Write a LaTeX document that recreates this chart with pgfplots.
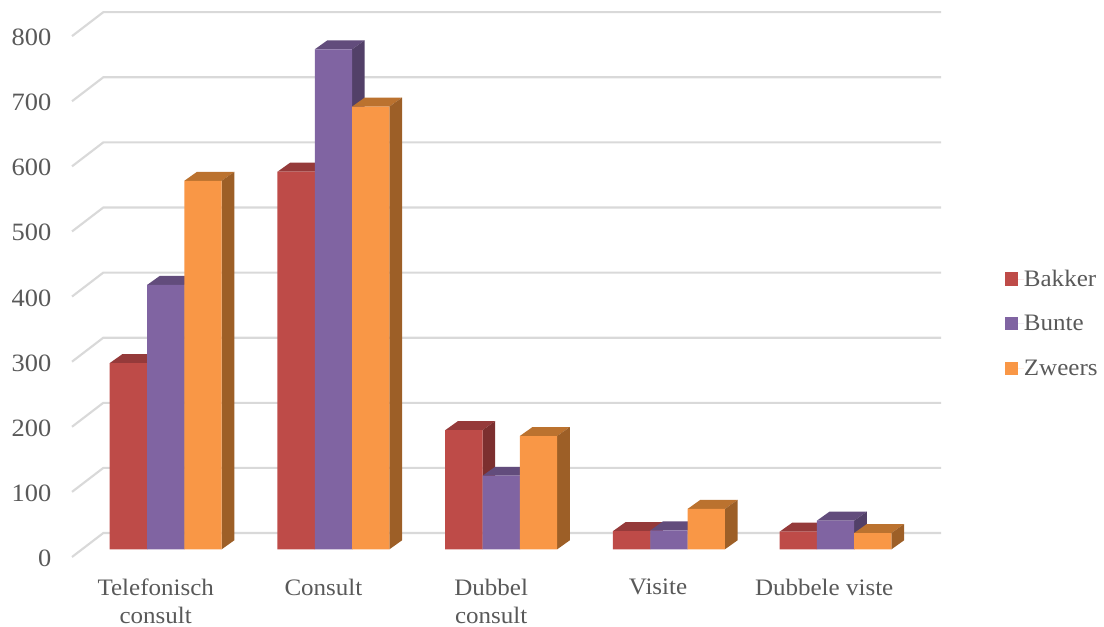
\documentclass[border=0pt]{standalone}
\usepackage{fontspec}
\setmainfont[FakeStretch=1.06]{Liberation Serif}
\usepackage{pgfplots}
\usepackage{pgfplotstable}
\pgfplotsset{compat=1.18}

\definecolor{gridc}{HTML}{D9D9D9}
\definecolor{textc}{HTML}{595959}
\definecolor{redF}{HTML}{BE4B48}
\definecolor{redT}{HTML}{953A3A}
\definecolor{redS}{HTML}{7C2F2F}
\definecolor{purF}{HTML}{8064A2}
\definecolor{purT}{HTML}{624C7C}
\definecolor{purS}{HTML}{524068}
\definecolor{oraF}{HTML}{F99746}
\definecolor{oraT}{HTML}{BB722F}
\definecolor{oraS}{HTML}{9D5F27}

\pgfplotstableread{
pos   Bakker Bunte Zweers
0     286    406   566
1     580    768   680
2     183    113   174
3     28     29    62
3.993 27     44    25
}\data

% top and side faces of one series; #1 column, #2 bar shift, #3 top, #4 side
\newcommand{\depthfaces}[4]{%
  \pgfplotsforeachungrouped \i in {0,...,4}{%
    \pgfplotstablegetelem{\i}{pos}\of\data
    \pgfmathsetmacro\xp{\pgfplotsretval}%
    \pgfplotstablegetelem{\i}{#1}\of\data
    \pgfmathsetmacro\va{\pgfplotsretval}%
    \pgfmathsetmacro\vb{\va+13.8}%
    \pgfmathsetmacro\xa{\xp+#2-0.1112}%
    \pgfmathsetmacro\xb{\xp+#2+0.1112}%
    \pgfmathsetmacro\xc{\xb+0.0751}%
    \pgfmathsetmacro\xd{\xa+0.0751}%
    \edef\temp{\noexpand\addplot[fill=#3,draw=none,forget plot] coordinates
      {(\xa,\va)(\xb,\va)(\xc,\vb)(\xd,\vb)} --cycle;
      \noexpand\addplot[fill=#4,draw=none,forget plot] coordinates
      {(\xb,0)(\xc,13.8)(\xc,\vb)(\xb,\va)} --cycle;}%
    \temp
  }%
}

\begin{document}
\begin{tikzpicture}[x=0.75pt,y=0.75pt]
\path[use as bounding box] (-72,-70) rectangle (1032,557);
\begin{axis}[
    at={(0,0)}, anchor=south west,
    scale only axis,
    width=651.75pt, height=408.75pt,
    xmin=-0.5586, xmax=4.6218,
    ymin=-11.8, ymax=825.3,
    clip=false,
    axis line style={draw=none},
    tick style={draw=none},
    major tick length=0pt,
    xtick={0,1,2,2.995,3.985},
    xticklabels={{Telefonisch\\consult},Consult,{Dubbel\\consult},Visite,Dubbele viste},
    xticklabel style={align=center, font=\fontsize{17.7}{21}\selectfont, text=textc, xshift=-7.5pt, yshift=-16.5pt, inner sep=0pt},
    ytick={-11.8,88.2,188.2,288.2,388.2,488.2,588.2,688.2,788.2},
    yticklabels={0,100,200,300,400,500,600,700,800},
    yticklabel style={font=\fontsize{18.7}{21}\selectfont, text=textc, xshift=-15.3pt, yshift=-1pt, inner sep=0pt},
    legend style={at={(1.0736,0.4285)}, anchor=west, draw=none, fill=none,
        inner sep=0pt, outer sep=0pt, row sep=20.25pt,
        font=\fontsize{17.7}{21}\selectfont, text=textc,
        nodes={inner sep=0pt, text=textc}},
    legend cell align=left,
    legend image code/.code={\fill[#1] (0pt,-4.9pt) rectangle (9.75pt,4.9pt);
        \path (0pt,0pt) -- (14.25pt,0pt);},
]
% back wall grid lines
\addplot[gridc,line width=1.6pt,forget plot] coordinates {(-0.5586,-11.8)(-0.372,25)(4.6218,25)};
\addplot[gridc,line width=1.6pt,forget plot] coordinates {(-0.5586,88.2)(-0.372,125)(4.6218,125)};
\addplot[gridc,line width=1.6pt,forget plot] coordinates {(-0.5586,188.2)(-0.372,225)(4.6218,225)};
\addplot[gridc,line width=1.6pt,forget plot] coordinates {(-0.5586,288.2)(-0.372,325)(4.6218,325)};
\addplot[gridc,line width=1.6pt,forget plot] coordinates {(-0.5586,388.2)(-0.372,425)(4.6218,425)};
\addplot[gridc,line width=1.6pt,forget plot] coordinates {(-0.5586,488.2)(-0.372,525)(4.6218,525)};
\addplot[gridc,line width=1.6pt,forget plot] coordinates {(-0.5586,588.2)(-0.372,625)(4.6218,625)};
\addplot[gridc,line width=1.6pt,forget plot] coordinates {(-0.5586,688.2)(-0.372,725)(4.6218,725)};
\addplot[gridc,line width=1.6pt,forget plot] coordinates {(-0.5586,788.2)(-0.372,825)(4.6218,825)};

\depthfaces{Bakker}{-0.2224}{redT}{redS}
\addplot[ybar,bar width=0.2224,bar shift=-0.2224,fill=redF,draw=none] table[x=pos,y=Bakker]{\data};
\depthfaces{Bunte}{0}{purT}{purS}
\addplot[ybar,bar width=0.2224,bar shift=0,fill=purF,draw=none] table[x=pos,y=Bunte]{\data};
\depthfaces{Zweers}{0.2224}{oraT}{oraS}
\addplot[ybar,bar width=0.2224,bar shift=0.2224,fill=oraF,draw=none] table[x=pos,y=Zweers]{\data};
\legend{Bakker,Bunte,Zweers}
\end{axis}
\end{tikzpicture}
\end{document}
